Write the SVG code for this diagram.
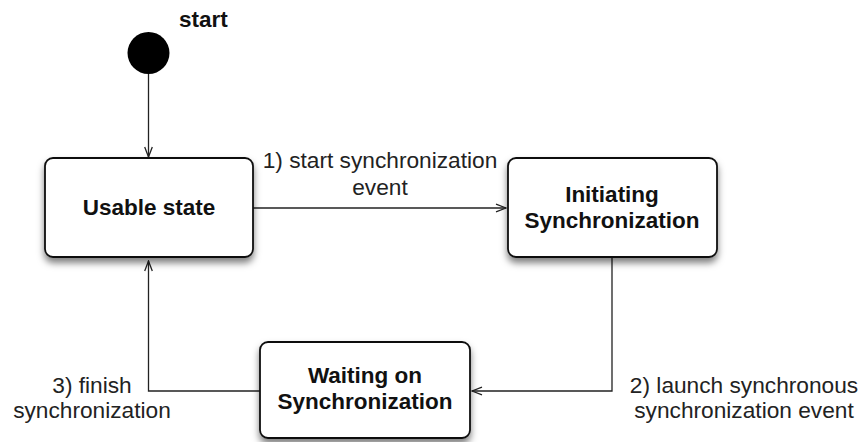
<svg xmlns="http://www.w3.org/2000/svg" width="861" height="442" viewBox="0 0 861 442">
<style>
.box{fill:#fff;stroke:#111;stroke-width:1.8;filter:url(#sh)}
.nt{font-family:"Liberation Sans",Arial,sans-serif;font-weight:bold;font-size:22.5px;fill:#111;text-anchor:middle}
.lt{font-family:"Liberation Sans",Arial,sans-serif;font-size:22.7px;fill:#222;text-anchor:middle}
.c{fill:none;stroke:#222;stroke-width:1.3;marker-end:url(#ah)}
</style>
<defs>
<filter id="sh" x="-20%" y="-20%" width="140%" height="150%">
<feDropShadow dx="0" dy="5" stdDeviation="3.5" flood-color="#000" flood-opacity="0.5"/>
</filter>
<marker id="ah" viewBox="0 0 12 10" refX="11" refY="5" markerWidth="12" markerHeight="10" markerUnits="userSpaceOnUse" orient="auto">
<path d="M1,1.2 L11,5 L1,8.8" fill="none" stroke="#222" stroke-width="1.3"/>
</marker>
</defs>
<g id="connectors">
<line class="c" x1="148.5" y1="74" x2="148.5" y2="157"/>
<line class="c" x1="253" y1="208" x2="506" y2="208"/>
<path class="c" d="M612,257 V391 H472"/>
<path class="c" d="M260,391 H148.5 V261"/>
<text class="lt" x="380" y="168">1) start synchronization</text>
<text class="lt" x="380" y="195">event</text>
<text class="lt" x="744" y="393">2) launch synchronous</text>
<text class="lt" x="744" y="418">synchronization event</text>
<text class="lt" x="92" y="393">3) finish</text>
<text class="lt" x="92" y="418">synchronization</text>
</g>
<g id="start">
<circle cx="148.5" cy="53" r="21" fill="#000"/>
<text class="nt" x="179" y="27" style="text-anchor:start">start</text>
</g>
<g id="usable">
<rect class="box" x="45" y="158" width="208" height="99" rx="8"/>
<text class="nt" x="149" y="215">Usable state</text>
</g>
<g id="initiating">
<rect class="box" x="508" y="158" width="209" height="99" rx="8"/>
<text class="nt" x="612" y="202">Initiating</text>
<text class="nt" x="612" y="228">Synchronization</text>
</g>
<g id="waiting">
<rect class="box" x="260" y="342" width="210" height="96" rx="8"/>
<text class="nt" x="365" y="383">Waiting on</text>
<text class="nt" x="365" y="409">Synchronization</text>
</g>
</svg>
